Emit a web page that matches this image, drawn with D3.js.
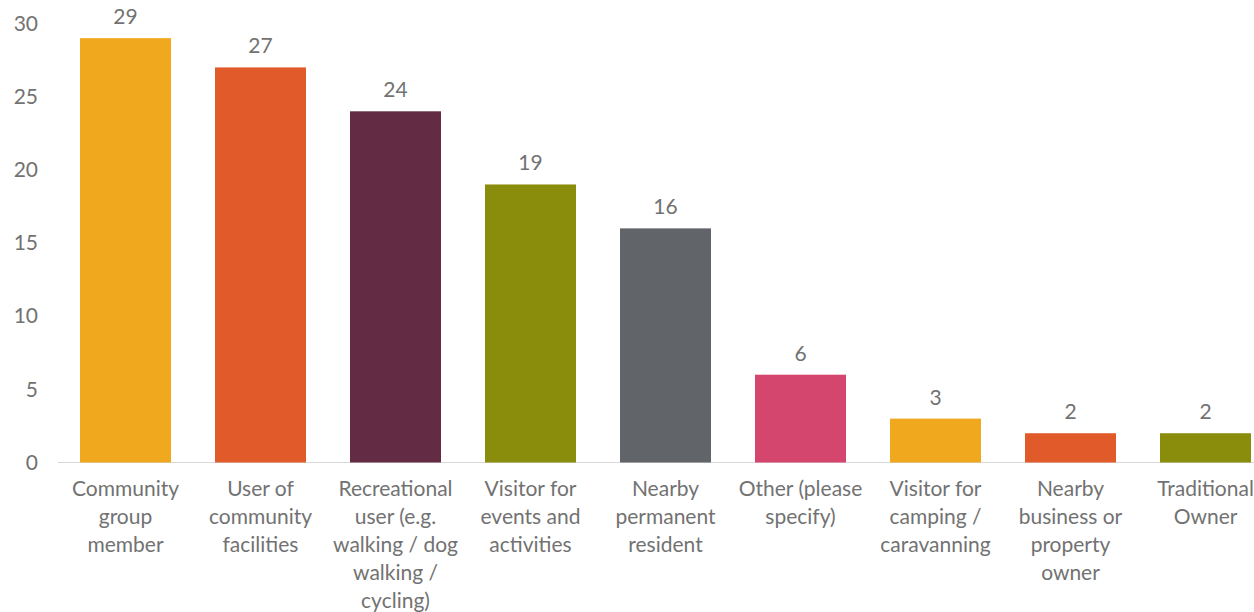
<!DOCTYPE html>
<html>
<head>
<meta charset="utf-8">
<script src="https://cdn.jsdelivr.net/npm/d3@7"></script>
<style>
  html, body { margin: 0; padding: 0; background: #fff; }
  svg { display: block; }
  text { font-family: Lato, "Open Sans", sans-serif; fill: #727272; }
</style>
</head>
<body>
<svg id="chart" width="1254" height="612"></svg>
<script>
const categories = [
  "Community\ngroup\nmember",
  "User of\ncommunity\nfacilities",
  "Recreational\nuser (e.g.\nwalking / dog\nwalking /\ncycling)",
  "Visitor for\nevents and\nactivities",
  "Nearby\npermanent\nresident",
  "Other (please\nspecify)",
  "Visitor for\ncamping /\ncaravanning",
  "Nearby\nbusiness or\nproperty\nowner",
  "Traditional\nOwner"
];
const values = [29, 27, 24, 19, 16, 6, 3, 2, 2];
const colors = ["#F0A91F", "#E05A2A", "#642C44", "#8A8C0B", "#616468", "#D5466F", "#F0A91F", "#E05A2A", "#8A8C0B"];
const yTicks = [0, 5, 10, 15, 20, 25, 30];

const FS = 21;
const svg = d3.select("#chart");
const x = d3.scaleBand().domain(categories).range([58, 1273]).paddingInner(0.326).paddingOuter(0.163);
const y = d3.scaleLinear().domain([0, 30]).range([462.5, 23.5]);

// baseline
svg.append("line")
  .attr("x1", 58).attr("x2", 1254)
  .attr("y1", y(0)).attr("y2", y(0))
  .attr("stroke", "#d9d9d9").attr("stroke-width", 1.2);

// y axis labels
const yAxis = d3.axisLeft(y).tickValues(yTicks).tickSize(0).tickPadding(0);
const gy = svg.append("g").attr("transform", "translate(38,0)").call(yAxis);
gy.select(".domain").remove();
gy.selectAll("text").attr("font-size", FS).style("font-family", "Lato, sans-serif").attr("fill", "#727272");

// bars
svg.selectAll("rect.bar").data(values).join("rect")
  .attr("class", "bar")
  .attr("x", (d, i) => x(categories[i]))
  .attr("width", x.bandwidth())
  .attr("y", d => y(d))
  .attr("height", d => y(0) - y(d))
  .attr("fill", (d, i) => colors[i]);

// value labels
svg.selectAll("text.val").data(values).join("text")
  .attr("class", "val")
  .attr("x", (d, i) => x(categories[i]) + x.bandwidth() / 2)
  .attr("y", d => y(d) - 14)
  .attr("text-anchor", "middle")
  .attr("font-size", FS)
  .text(d => d);

// category labels
const gx = svg.selectAll("text.cat").data(categories).join("text")
  .attr("class", "cat")
  .attr("text-anchor", "middle")
  .attr("font-size", FS)
  .attr("transform", d => `translate(${x(d) + x.bandwidth() / 2},${y(0) + 33})`);
gx.each(function(d) {
  const t = d3.select(this);
  d.split("\n").forEach((line, i) => {
    t.append("tspan").attr("x", 0).attr("dy", i === 0 ? 0 : 28).text(line);
  });
});
</script>
</body>
</html>
